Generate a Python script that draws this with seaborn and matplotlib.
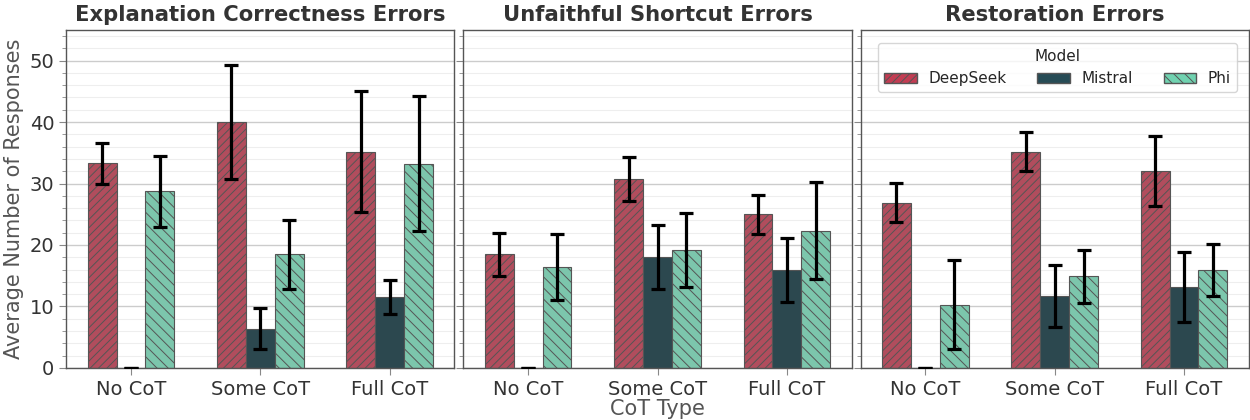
import numpy as np
import pandas as pd
import seaborn as sns
import matplotlib.pyplot as plt
from matplotlib.ticker import MultipleLocator
from matplotlib.patches import Patch

cot_types = ['No CoT', 'Some CoT', 'Full CoT']
models = ['DeepSeek', 'Mistral', 'Phi']
panels = ['Explanation Correctness Errors', 'Unfaithful Shortcut Errors', 'Restoration Errors']

# means per panel, order: model x cot type
expl_mean = {'DeepSeek': [33.3, 40.0, 35.2], 'Mistral': [0.0, 6.4, 11.5], 'Phi': [28.7, 18.5, 33.2]}
expl_err = {'DeepSeek': [3.3, 9.2, 9.8], 'Mistral': [0.0, 3.4, 2.8], 'Phi': [5.7, 5.6, 11.0]}
short_mean = {'DeepSeek': [18.5, 30.7, 25.0], 'Mistral': [0.0, 18.0, 15.9], 'Phi': [16.4, 19.2, 22.3]}
short_err = {'DeepSeek': [3.5, 3.6, 3.2], 'Mistral': [0.0, 5.2, 5.2], 'Phi': [5.4, 6.0, 7.9]}
rest_mean = {'DeepSeek': [26.9, 35.2, 32.0], 'Mistral': [0.0, 11.7, 13.2], 'Phi': [10.3, 14.9, 15.9]}
rest_err = {'DeepSeek': [3.2, 3.2, 5.7], 'Mistral': [0.0, 5.1, 5.7], 'Phi': [7.2, 4.3, 4.2]}

colors = {'DeepSeek': '#c23c52', 'Mistral': '#264b55', 'Phi': '#70d2b0'}
hatches = {'DeepSeek': '////', 'Mistral': '', 'Phi': '\\\\\\'}

sns.set_style('whitegrid')
plt.rcParams['font.family'] = ['DejaVu Sans']
plt.rcParams['hatch.linewidth'] = 0.7

fig, axes = plt.subplots(1, 3, figsize=(12.5, 4.2), dpi=100, sharey=True)
fig.subplots_adjust(left=0.053, right=0.999, top=0.929, bottom=0.124, wspace=0.023)

all_data = [(expl_mean, expl_err), (short_mean, short_err), (rest_mean, rest_err)]
for i, (ax, (means, errs)) in enumerate(zip(axes, all_data)):
    rows = []
    for m in models:
        for j, c in enumerate(cot_types):
            rows.append({'CoT Type': c, 'Model': m, 'value': means[m][j], 'err': errs[m][j]})
    df = pd.DataFrame(rows)
    sns.barplot(data=df, x='CoT Type', y='value', hue='Model', order=cot_types, hue_order=models,
                palette=colors, width=0.67, errorbar=None, edgecolor='#555555', linewidth=0.8,
                ax=ax, legend=False)
    # hatch + error bars, patches come in hue order
    for k, m in enumerate(models):
        bars = ax.patches[k * 3:(k + 1) * 3]
        for j, b in enumerate(bars):
            b.set_hatch(hatches[m])
            xc = b.get_x() + b.get_width() / 2
            ax.errorbar(xc, means[m][j], yerr=errs[m][j], color='black', lw=2.3,
                        capsize=5, capthick=2.3, zorder=5)
    ax.set_title(panels[i], fontsize=15.2, fontweight='bold', color='#333333')
    ax.set_ylim(0, 55)
    ax.set_xlim(-0.5, 2.5)
    ax.yaxis.set_major_locator(MultipleLocator(10))
    ax.yaxis.set_minor_locator(MultipleLocator(2))
    ax.grid(axis='y', which='major', color='#cccccc', lw=1.0)
    ax.grid(axis='y', which='minor', color='#eeeeee', lw=0.8)
    ax.grid(axis='x', visible=False)
    ax.set_axisbelow(True)
    ax.tick_params(axis='y', which='minor', length=3, left=True, color='#888888')
    ax.tick_params(axis='y', which='major', length=5, left=True, color='#888888')
    ax.tick_params(axis='x', length=5, bottom=True, color='#888888')
    ax.tick_params(labelsize=14, labelcolor='#333333')
    for s in ax.spines.values():
        s.set_color('#555555')
        s.set_linewidth(1.0)
    ax.set_ylabel('')
    ax.set_xlabel('')

axes[0].set_ylabel('Average Number of Responses', fontsize=15, color='#555555')
axes[1].set_xlabel('CoT Type', fontsize=15, color='#555555', labelpad=0)

handles = [Patch(facecolor=colors[m], edgecolor='#555555', hatch=hatches[m], label=m) for m in models]
leg = axes[2].legend(handles=handles, title='Model', ncol=3, loc='upper right', fontsize=11,
                     title_fontsize=11, frameon=True, handlelength=2.1, handleheight=0.6,
                     columnspacing=2.0, bbox_to_anchor=(0.99, 0.985))

fig.savefig('out.png', dpi=100)
